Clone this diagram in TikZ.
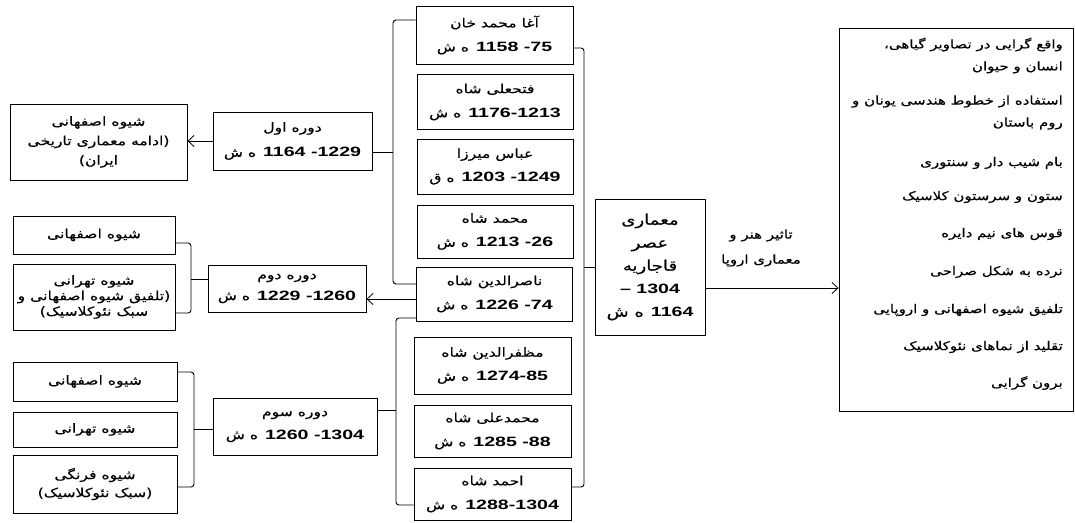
\documentclass[tikz,border=0pt]{standalone}
\usepackage{fontspec}
\usetikzlibrary{arrows.meta}
\TeXXeTstate=1
\newfontfamily\farsifont[Script=Arabic,FakeStretch=1.25,FakeBold=0.3]{DejaVu Sans}
\newfontfamily\numfont[FakeStretch=1.45]{Liberation Sans Bold}
\newcommand\fa[1]{{\farsifont\beginR #1\endR}}
\newcommand\nm[1]{{\fontsize{13.5}{13.5}\numfont #1}}
\newcommand\dt[2]{\fa{#1}\hspace{7pt}\nm{#2}}
\begin{document}
\begin{tikzpicture}[x=1pt,y=-1pt,
  box/.style={draw, line width=0.9pt, inner sep=0pt, align=center, font=\fontsize{12.5}{24}\selectfont},
  txt/.style={inner sep=0pt, align=center, font=\fontsize{12.5}{24}\selectfont},
  item/.style={inner sep=0pt, anchor=east, font=\fontsize{12}{22}\selectfont, align=right},
  conn/.style={line width=0.9pt, rounded corners=3pt},
  arr/.style={line width=0.8pt, -{Straight Barb[length=6pt,width=11pt]}}]
\useasboundingbox (0,0) rectangle (1075,522);

% kings
\node[box, minimum width=157, minimum height=58] (k1) at (494.5,35) {\fa{آغا محمد خان}\\\dt{ه ش}{1158 -75}};
\node[box, minimum width=156, minimum height=55] (k2) at (495,102) {\fa{فتحعلی شاه}\\\dt{ه ش}{1176-1213}};
\node[box, minimum width=156, minimum height=55] (k3) at (495,166.5) {\fa{عباس میرزا}\\\dt{ه ق}{1203 -1249}};
\node[box, minimum width=156, minimum height=53] (k4) at (495,231.5) {\fa{محمد شاه}\\\dt{ه ش}{1213 -26}};
\node[box, minimum width=156, minimum height=54] (k5) at (494.5,294) {\fa{ناصرالدین شاه}\\\dt{ه ش}{1226 -74}};
\node[box, minimum width=157, minimum height=57] (k6) at (492.5,365.5) {\fa{مظفرالدین شاه}\\\dt{ه ش}{1274-85}};
\node[box, minimum width=157, minimum height=52] (k7) at (492.5,431) {\fa{محمدعلی شاه}\\\dt{ه ش}{1285 -88}};
\node[box, minimum width=157, minimum height=52] (k8) at (492.5,494) {\fa{احمد شاه}\\\dt{ه ش}{1288-1304}};

% centre
\node[box, minimum width=110, minimum height=136, font=\fontsize{14.5}{23}\selectfont] (cb) at (650,267)
  {\fa{معماری}\\\fa{عصر}\\\fa{قاجاریه}\\\nm{– 1304}\\\dt{ه ش}{1164}};

% periods
\node[box, minimum width=159, minimum height=58, font=\fontsize{12.5}{25}\selectfont] (p1) at (292.5,141) {\fa{دوره اول}\\\dt{ه ش}{1164 -1229}};
\node[box, minimum width=158, minimum height=47, font=\fontsize{12.5}{21}\selectfont] (p2) at (287,288.5) {\fa{دوره دوم}\\\dt{ه ش}{1229 -1260}};
\node[box, minimum width=164, minimum height=57, font=\fontsize{12.5}{23}\selectfont] (p3) at (295,426.5) {\fa{دوره سوم}\\\dt{ه ش}{1260 -1304}};

% styles (left)
\node[box, minimum width=177, minimum height=76, font=\fontsize{12.5}{19.5}\selectfont] (l1) at (98.5,142) {\fa{شیوه اصفهانی}\\\fa{(ادامه معماری تاریخی}\\\fa{ایران)}};
\node[box, minimum width=162, minimum height=38] (l2) at (94,235) {\fa{شیوه اصفهانی}};
\node[box, minimum width=162, minimum height=66, font=\fontsize{12.5}{15.5}\selectfont] (l3) at (94,297) {\fa{شیوه تهرانی}\\\fa{(تلفیق شیوه اصفهانی و}\\\fa{سبک نئوکلاسیک)}};
\node[box, minimum width=164, minimum height=39] (l4) at (95,381.5) {\fa{شیوه اصفهانی}};
\node[box, minimum width=164, minimum height=35] (l5) at (95,429.5) {\fa{شیوه تهرانی}};
\node[box, minimum width=164, minimum height=58, font=\fontsize{12.5}{18}\selectfont] (l6) at (95,484) {\fa{شیوه فرنگی}\\\fa{(سبک نئوکلاسیک)}};

% right box
\node[box, minimum width=234, minimum height=383] (rb) at (956,219.5) {};
\node[item] (r1) at (1063,55.5) {\fa{واقع گرایی در تصاویر گیاهی،}\\\fa{انسان و حیوان}};
\node[item] (r2) at (1063,112.5) {\fa{استفاده از خطوط هندسی یونان و}\\\fa{روم باستان}};
\node[item] (r3) at (1063,163) {\fa{بام شیب دار و سنتوری}};
\node[item] (r4) at (1063,197) {\fa{ستون و سرستون کلاسیک}};
\node[item] (r5) at (1063,234) {\fa{قوس های نیم دایره}};
\node[item] (r6) at (1063,272) {\fa{نرده به شکل صراحی}};
\node[item] (r7) at (1063,310) {\fa{تلفیق شیوه اصفهانی و اروپایی}};
\node[item] (r8) at (1063,347) {\fa{تقلید از نماهای نئوکلاسیک}};
\node[item] (r9) at (1063,383) {\fa{برون گرایی}};

% arrow label
\node[txt, font=\fontsize{12}{25}\selectfont] (lbl) at (761,248) {\fa{تاثیر هنر و}\\\fa{معماری اروپا}};

% spine coordinates
\coordinate (s1) at (393,152);
\coordinate (s3) at (396,410);
\coordinate (sr) at (584,267);
\coordinate (s2) at (191,279);
\coordinate (s4) at (194,429);

% brace kings 1-5
\draw[conn] ([yshift=15pt]k1.west) -| (s1) |- ([yshift=10pt]k5.west);
\draw[conn] ([yshift=-11pt]p1.east) -- (s1);
% brace kings 5-8
\draw[conn] ([yshift=-24pt]k5.west) -| (s3) |- ([yshift=-11pt]k8.west);
\draw[conn] ([yshift=16.5pt]p3.east) -- (s3);
% right brace
\draw[conn] ([yshift=-13pt]k1.east) -| (sr) |- ([yshift=7pt]k8.east);
\draw[conn] (sr) -- (cb.west);
% left braces
\draw[conn] ([yshift=-8pt]l2.east) -| (s2) |- ([yshift=-16pt]l3.east);
\draw[conn] (s2) -- (s2 -| p2.west);
\draw[conn] ([yshift=9.5pt]l4.east) -| (s4) |- ([yshift=-3pt]l6.east);
\draw[conn] (s4) -- (s4 -| p3.west);

% arrows
\draw[arr] (p1.west) -- (p1.west -| l1.east);
\draw[arr] ([yshift=-5pt]k5.west) -- ([yshift=-5pt]k5.west -| p2.east);
\draw[arr] ([yshift=-21pt]cb.east) -- ([yshift=-21pt]cb.east -| rb.west);
\end{tikzpicture}
\end{document}
